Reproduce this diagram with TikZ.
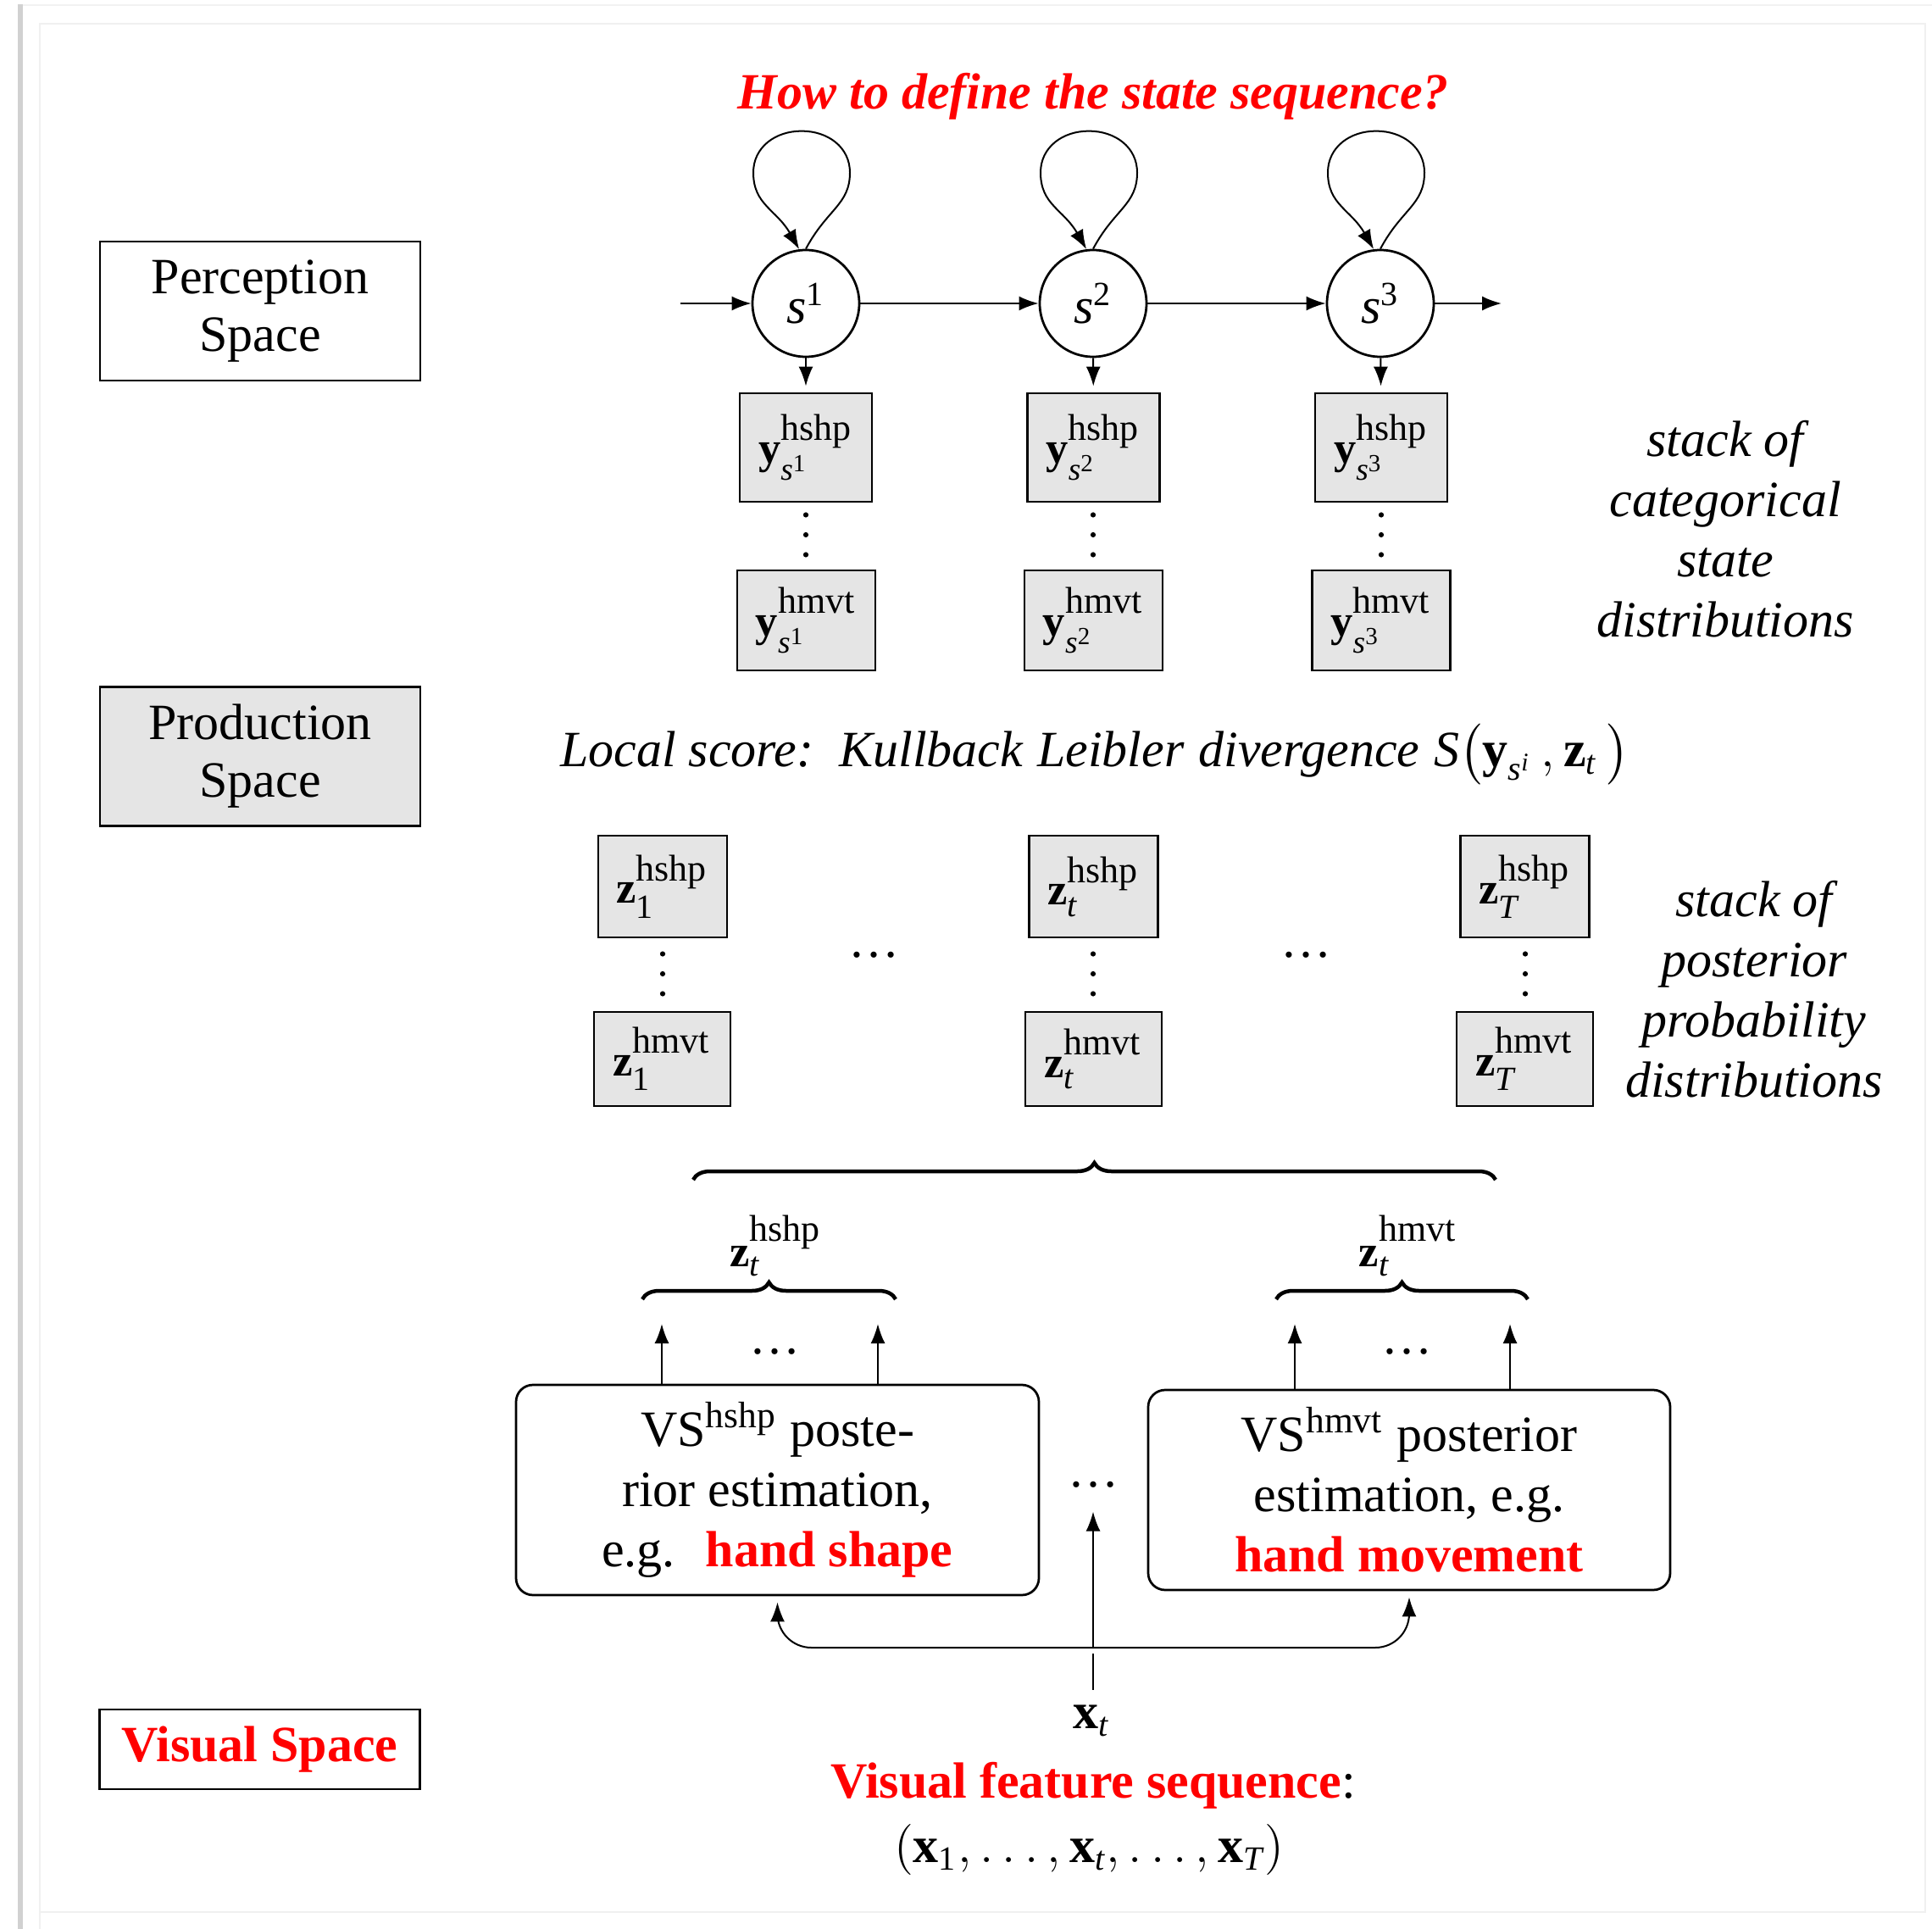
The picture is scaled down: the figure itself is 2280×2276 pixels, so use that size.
\documentclass[tikz,border=0pt]{standalone}
\usepackage{amsmath}
\usepackage{fontspec}
\setmainfont{Liberation Serif}
\usetikzlibrary{arrows.meta,decorations.pathreplacing,calc}

% fixed font size helper
\newcommand{\fsz}[1]{\fontsize{#1}{#1}\selectfont}
% distribution symbol: bold letter with superscript label and subscript
\newcommand{\dsym}[3]{$\text{\fsz{10.5}\bfseries #1}^{\text{\fsz{8.8}#2\vphantom{p}}}_{#3}$}
\newcommand{\subs}[1]{\text{\fsz{7.5}\itshape s}^{\text{\fsz{5.8}#1}}}
\newcommand{\subt}[1]{\text{\fsz{8}#1}}

\begin{document}
\begin{tikzpicture}[x=0.2pt,y=-0.2pt,
  font=\fontsize{12}{14.2}\selectfont,
  lbl/.style={draw, line width=0.55pt, minimum width=75.6pt, minimum height=32.8pt,
    align=center, inner sep=0pt, font=\fontsize{12}{13.6}\selectfont},
  state/.style={circle, draw, line width=0.55pt, minimum size=25.2pt, inner sep=0pt},
  dist/.style={draw, fill=black!10, line width=0.55pt, inner sep=0pt,
    font=\fontsize{10}{12}\selectfont},
  hs/.style={dist, minimum width=31.2pt, minimum height=25.6pt},
  hm/.style={dist, minimum width=32.6pt, minimum height=23.6pt},
  zhs/.style={dist, minimum width=30.4pt, minimum height=24pt},
  zhm/.style={dist, minimum width=32.2pt, minimum height=22.2pt},
  vsbox/.style={draw, rounded corners=4pt, line width=0.55pt, align=center, inner sep=0pt},
  arr/.style={-{Latex[length=4.6pt,width=3.4pt]}, line width=0.4pt},
  brc/.style={decorate, decoration={brace, amplitude=4pt}, line width=0.9pt},
  note/.style={font=\itshape\fontsize{12}{14.2}\selectfont, align=center},
  dots/.style={inner sep=0pt},
  vdts/.pic={\fill (0,-23.5) circle (0.62pt) (0,0) circle (0.62pt) (0,23.5) circle (0.62pt);}
]
\useasboundingbox (0,0) rectangle (2280,2276);

% sheet edges
\fill[black!18] (21,5) rectangle (27,2276);
\draw[black!5, line width=0.4pt] (27,6) -- (2280,6);
\draw[black!6, line width=0.5pt] (47,2276) -- (47,28) -- (2272,28) -- (2272,2256) -- (47,2256);

% space labels on the left
\node[lbl] (perc) at (307,367) {Perception\\Space};
\node[lbl, fill=black!10] (prod) at (307,892.5) {Production\\Space};
\node[lbl, minimum height=18.8pt] (vis) at (306.5,2064) {\textcolor{red}{\bfseries Visual Space}};

% question
\node[font=\bfseries\itshape\fontsize{12}{14}\selectfont, text=red] (ttl) at (1290,114)
  {How to define the state sequence?};

% state chain
\node[state] (s1) at (951,358) {$\textit{s}^{\text{1}}$};
\node[state] (s2) at (1290,358) {$\textit{s}^{\text{2}}$};
\node[state] (s3) at (1629,358) {$\textit{s}^{\text{3}}$};
\coordinate (cin) at (803,358);
\coordinate (cout) at (1772,358);
\draw[arr] (cin) -- (s1);
\draw[arr] (s1) -- (s2);
\draw[arr] (s2) -- (s3);
\draw[arr] (s3) -- (cout);
\foreach \s in {s1,s2,s3}
  \draw[arr] (\s.north) .. controls +(25,-47) and +(0,38) .. ($(\s.north)+(52,-90)$)
     .. controls +(0,-30) and +(31,0) .. ($(\s.north)+(-5,-139)$)
     .. controls +(-31,0) and +(0,-30) .. ($(\s.north)+(-62,-90)$)
     .. controls +(0,38) and +(-27,-47) .. (\s.97);

% categorical state distributions
\node[hs] (y1h) at (951,528) {\dsym{y}{hshp}{\subs{1}}};
\node[hs] (y2h) at (1290.5,528) {\dsym{y}{hshp}{\subs{2}}};
\node[hs] (y3h) at (1630,528) {\dsym{y}{hshp}{\subs{3}}};
\node[hm] (y1m) at (951.5,732) {\dsym{y}{hmvt}{\subs{1}}};
\node[hm] (y2m) at (1290.5,732) {\dsym{y}{hmvt}{\subs{2}}};
\node[hm] (y3m) at (1630,732) {\dsym{y}{hmvt}{\subs{3}}};
\pic at (951,631) {vdts};
\pic at (1290,631) {vdts};
\pic at (1630,631) {vdts};
\draw[arr, shorten >=1.4pt] (s1) -- (y1h);
\draw[arr, shorten >=1.4pt] (s2) -- (y2h);
\draw[arr, shorten >=1.4pt] (s3) -- (y3h);

\node[note] (cat) at (2036,624.5) {stack of\\categorical\\state\\distributions};

% local score
\node[font=\itshape\fontsize{12}{14}\selectfont] (score) at (1292,890)
  {Local score:\hspace{6pt}Kullback\hspace{3.4pt}Leibler\hspace{3.4pt}divergence\hspace{3.4pt}$\textit{S}\bigl(\textbf{\upshape y}_{\textit{s}^{\textit{i}}}\,,\textbf{\upshape z}_{\textit{t}}\,\bigr)$};

% posterior probability distributions
\node[zhs] (z1h) at (782,1046) {\dsym{z}{hshp}{\subt{1}}};
\node[zhs] (zth) at (1290.5,1046) {\dsym{z}{hshp}{\subt{\itshape t}}};
\node[zhs] (zTh) at (1799.5,1046) {\dsym{z}{hshp}{\subt{\itshape T}}};
\node[zhm] (z1m) at (781.5,1249.5) {\dsym{z}{hmvt}{\subt{1}}};
\node[zhm] (ztm) at (1290.5,1249.5) {\dsym{z}{hmvt}{\subt{\itshape t}}};
\node[zhm] (zTm) at (1799.5,1249.5) {\dsym{z}{hmvt}{\subt{\itshape T}}};
\pic at (782,1149) {vdts};
\pic at (1290,1149) {vdts};
\pic at (1800,1149) {vdts};
\node[dots] (zd1) at (1031,1127) {\dots};
\node[dots] (zd2) at (1541,1127) {\dots};

\node[note] (post) at (2070,1167) {stack of\\posterior\\probability\\distributions};

% grouping braces
\coordinate (bA) at (818,1392);
\coordinate (bB) at (1765,1392);
\draw[brc] (bA) -- (bB);
\coordinate (lA) at (758,1533);
\coordinate (lB) at (1057,1533);
\draw[brc] (lA) -- (lB);
\coordinate (rA) at (1506,1533);
\coordinate (rB) at (1803,1533);
\draw[brc] (rA) -- (rB);
\node (gzh) at (916,1470) {\dsym{z}{hshp}{\subt{\itshape t}}};
\node (gzm) at (1662,1470) {\dsym{z}{hmvt}{\subt{\itshape t}}};

% visual sub-space estimators
\node[vsbox, minimum width=123.4pt, minimum height=49.6pt] (vsl) at (917.5,1758)
  {VS$^{\text{\fsz{8.7}hshp}}$ poste-\\rior estimation,\\e.g.\hspace{7.2pt}\textcolor{red}{\bfseries hand shape}};
\node[vsbox, minimum width=123.2pt, minimum height=47.2pt] (vsr) at (1663,1758)
  {VS$^{\text{\fsz{8.7}hmvt}}$ posterior\\estimation, e.g.\\\textcolor{red}{\bfseries hand movement}};

\coordinate (a1) at (781,1562);
\coordinate (a2) at (1036,1562);
\coordinate (a3) at (1528,1562);
\coordinate (a4) at (1782,1562);
\draw[arr] (a1 |- vsl.north) -- (a1);
\draw[arr] (a2 |- vsl.north) -- (a2);
\draw[arr] (a3 |- vsr.north) -- (a3);
\draw[arr] (a4 |- vsr.north) -- (a4);
\node[dots] (vd1) at (914,1595) {\dots};
\node[dots] (vd2) at (1660,1595) {\dots};
\node[dots] (vdm) at (1290,1752) {\dots};

% feature vector fan-out
\node (xt) at (1288,2030) {$\textbf{x}_{\textit{t}}$};
\coordinate (J) at (1290,1944);
\coordinate (Jb) at (1290,1951);
\draw[line width=0.4pt] (xt.north -| J) -- (Jb);
\draw[arr, shorten >=5.4pt] (J) -- (vdm.south);
\draw[arr, rounded corners=8pt, shorten >=1.4pt] (J) -| (vsl.south);
\draw[arr, rounded corners=8pt, shorten >=1.4pt] (J) -| (vsr.south);

\node (vfs) at (1290,2107) {\textcolor{red}{\bfseries Visual feature sequence}:};
\node (seq) at (1285,2182)
  {$\left(\textbf{x}_{\text{1}},\ldots,\textbf{x}_{\textit{t}},\ldots,\textbf{x}_{\textit{T}}\right)$};
\end{tikzpicture}
\end{document}
